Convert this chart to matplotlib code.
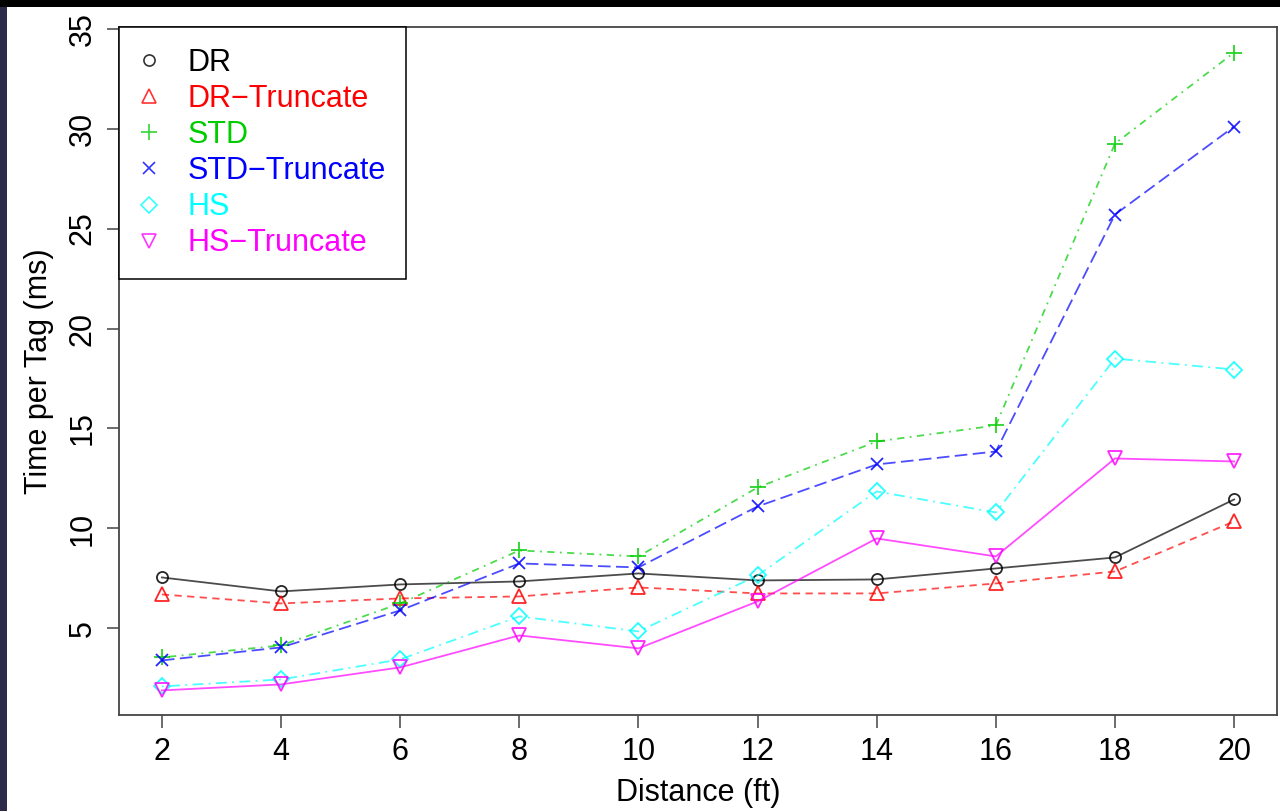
import matplotlib
matplotlib.use("Agg")
import matplotlib.pyplot as plt
from matplotlib.patches import Rectangle
from matplotlib.lines import Line2D

plt.rcParams['font.family'] = ['Liberation Sans', 'DejaVu Sans']

distance = [2, 4, 6, 8, 10, 12, 14, 16, 18, 20]
series_names = ["DR", "DR\u2212Truncate", "STD", "STD\u2212Truncate", "HS", "HS\u2212Truncate"]
dr = [7.55, 6.85, 7.2, 7.35, 7.75, 7.4, 7.45, 8.0, 8.55, 11.45]
dr_trunc = [6.7, 6.25, 6.5, 6.6, 7.05, 6.75, 6.75, 7.25, 7.85, 10.35]
std = [3.55, 4.15, 6.25, 8.9, 8.6, 12.05, 14.35, 15.15, 29.25, 33.8]
std_trunc = [3.4, 4.05, 5.9, 8.25, 8.05, 11.1, 13.2, 13.85, 25.7, 30.1]
hs = [2.1, 2.45, 3.45, 5.6, 4.85, 7.65, 11.85, 10.8, 18.5, 17.95]
hs_trunc = [1.9, 2.2, 3.05, 4.65, 4.0, 6.35, 9.5, 8.6, 13.5, 13.35]
values = [dr, dr_trunc, std, std_trunc, hs, hs_trunc]
y_ticks = [5, 10, 15, 20, 25, 30, 35]

colors = ["black", "#FF0000", "#00CD00", "#0000FF", "#00FFFF", "#FF00FF"]
markers = ["o", "^", "+", "x", "D", "v"]
msizes = [8, 10, 12, 9, 8.5, 10]
linestyles = ["-", (0, (4, 3)), (0, (1, 3, 4, 3)), (0, (7, 3)), (0, (1, 3, 6, 3)), "-"]

fig = plt.figure(figsize=(12.8, 8.11), dpi=100, facecolor="white")
W, H = 1280, 811
ax = fig.add_axes([119 / W, (H - 715) / H, (1277 - 119) / W, (715 - 27) / H])

for vals, c, m, ms, ls in zip(values, colors, markers, msizes, linestyles):
    ax.plot(distance, vals, color=c, linestyle=ls, linewidth=1.3, alpha=0.7,
            marker="none")
    ax.plot(distance, vals, color=c, linestyle="none", marker=m, markersize=ms,
            markerfacecolor="none", markeredgecolor=c, markeredgewidth=1.3, alpha=0.85)

ax.set_xlim(1.28, 20.72)
ax.set_ylim(0.67, 35.08)
ax.set_xticks(distance)
ax.set_yticks(y_ticks)
ax.tick_params(axis="both", direction="out", length=9, width=1.1, color="#444444",
               labelsize=22)
ax.tick_params(axis="x", pad=7)
for lab in ax.get_yticklabels():
    lab.set_rotation(90)
    lab.set_va("center")
    lab.set_ha("center")
ax.tick_params(axis="y", pad=17)
for sp in ax.spines.values():
    sp.set_color("#444444")
    sp.set_linewidth(1.3)

ax.set_xlabel("Distance (ft)", fontsize=22, labelpad=8)
ax.set_ylabel("Time per Tag (ms)", fontsize=22, labelpad=10)

handles = [Line2D([], [], color=c, marker=m, markersize=ms, linestyle="none",
                  markerfacecolor="none", markeredgewidth=1.2, alpha=0.8)
           for c, m, ms in zip(colors, markers, msizes)]
leg = ax.legend(handles, series_names, loc="upper left", bbox_to_anchor=(0, 1),
                borderaxespad=0, fancybox=False, edgecolor="black", framealpha=1,
                fontsize=22, handlelength=0.6, handletextpad=0.95, labelspacing=0.2,
                borderpad=0.68)
leg.get_frame().set_linewidth(1.1)
for txt, c in zip(leg.get_texts(), colors):
    txt.set_color(c)

# dark surround strips from the screenshot
fig.add_artist(Rectangle((0, 1 - 7 / H), 1, 7 / H, transform=fig.transFigure,
                         facecolor="black", edgecolor="none"))
fig.add_artist(Rectangle((0, 0), 7 / W, 1 - 7 / H, transform=fig.transFigure,
                         facecolor="#2b2a48", edgecolor="none"))

fig.savefig("out.png", dpi=100, facecolor="white")
